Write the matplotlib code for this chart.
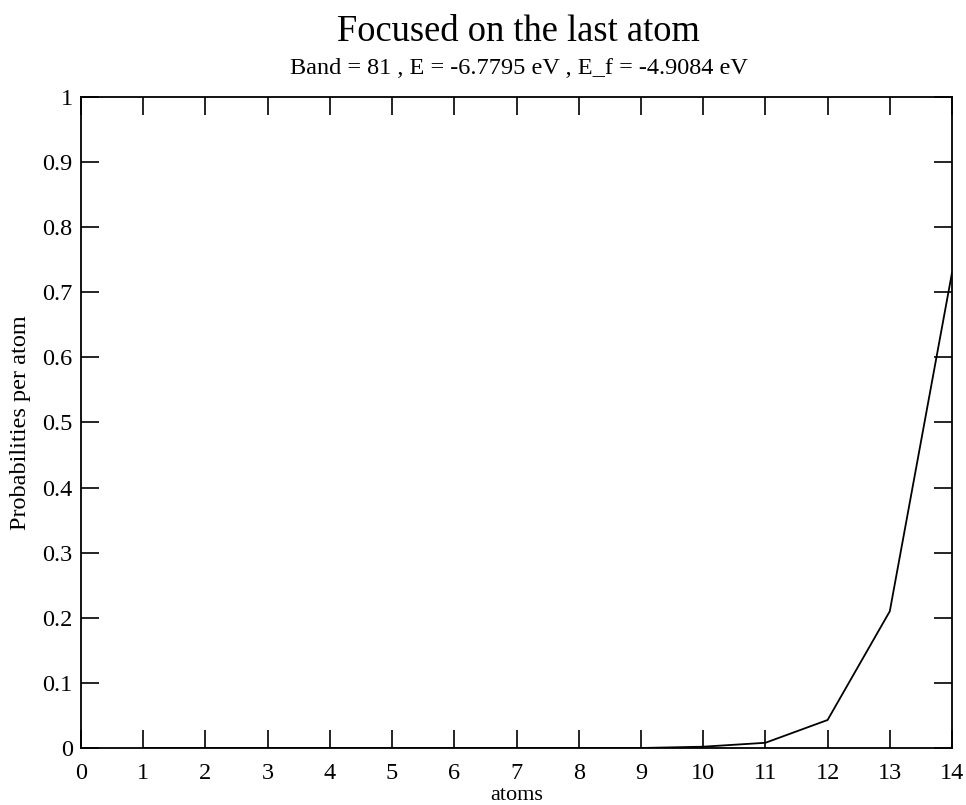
import matplotlib
matplotlib.use("Agg")
import matplotlib.pyplot as plt
from matplotlib.ticker import MultipleLocator, FormatStrFormatter

# probabilities per atom (atoms 1..14)
atoms = [1, 2, 3, 4, 5, 6, 7, 8, 9, 9.5, 10, 11, 12, 13, 14]
probs = [0, 0, 0, 0, 0, 0, 0, 0, 0, 0.001, 0.002, 0.008, 0.043, 0.21, 0.73]

title = "Focused on the last atom"
subtitle = "Band = 81 , E = -6.7795 eV , E_f = -4.9084 eV"

plt.rcParams['font.family'] = ['Liberation Serif', 'DejaVu Serif']

fig = plt.figure(figsize=(9.66, 8.05), dpi=100)
ax = fig.add_axes([81 / 966, 1 - 748 / 805, (952 - 81) / 966, (748 - 97) / 805])

ax.plot(atoms, probs, color='black', lw=1.3)

ax.set_xlim(0, 14)
ax.set_ylim(0, 1)
ax.xaxis.set_major_locator(MultipleLocator(1))
ax.yaxis.set_major_locator(MultipleLocator(0.1))
ax.yaxis.set_major_formatter(FormatStrFormatter('%g'))
ax.tick_params(direction='in', length=13, width=1.2, top=True, right=True,
               labelsize=17.5, colors='black')
ax.tick_params(axis='x', pad=11)
ax.tick_params(axis='y', pad=6)
for s in ax.spines.values():
    s.set_linewidth(1.3)

ax.set_xlabel("atoms", fontsize=16, labelpad=1.5)
ax.set_ylabel("Probabilities per atom", fontsize=17.5, labelpad=8)

fig.text(0.537, 1 - 32 / 805, title, ha='center', va='center', fontsize=26.3)
fig.text(0.537, 1 - 68 / 805, subtitle, ha='center', va='center', fontsize=17.5)

fig.savefig("out.png", dpi=100)
